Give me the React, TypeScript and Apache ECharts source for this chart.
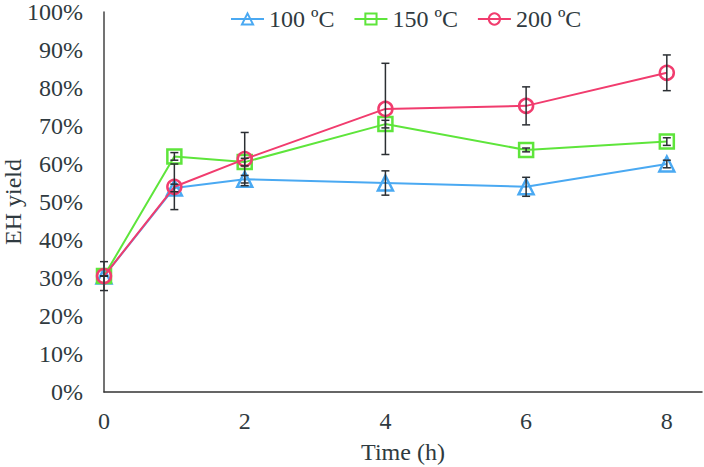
import React, { useEffect, useRef } from "react";
import * as echarts from "echarts";

const times = [0, 1, 2, 4, 6, 8];
const y100 = [30.5, 53.7, 56, 55, 54, 60];
const y150 = [30.5, 62, 60.5, 70.5, 63.7, 65.9];
const y200 = [30.5, 54, 61.3, 74.5, 75.3, 84];
const err100 = [0, 1, 1, 3.2, 2.5, 1];
const err150 = [0, 1, 1, 1, 0.5, 1];
const err200 = [3.8, 6, 7, 12, 5, 4.7];
const seriesNames = ["100 ºC", "150 ºC", "200 ºC"];
const colors = ["#4aa9f2", "#5ee53b", "#f13c6e"];
const symbols = ["triangle", "rect", "circle"];

const TEXT = "#2f3a40";
const FONT = "Liberation Serif";
const FS = 24;

export default function App() {
  const ref = useRef<HTMLDivElement>(null);
  useEffect(() => {
    document.body.style.margin = "0";
    const chart = echarts.init(ref.current!, null, { renderer: "svg" });
    const ys = [y100, y150, y200];
    const errs = [err100, err150, err200];

    const lineSeries = ys.map((vals, k) => ({
      name: seriesNames[k],
      type: "line",
      data: times.map((t, i) => [t, vals[i]]),
      symbol: symbols[k],
      symbolSize: k === 0 ? 15 : 14,
      showAllSymbol: true,
      lineStyle: { color: colors[k], width: 2 },
      itemStyle: { color: "rgba(255,255,255,0)", borderColor: colors[k], borderWidth: 2.5 },
      z: 2 + k,
    }));

    const errSeries = ys.map((vals, k) => ({
      name: "err" + k,
      type: "custom",
      data: times.map((t, i) => [t, vals[i] - errs[k][i], vals[i] + errs[k][i]]),
      encode: { x: 0, y: [1, 2] },
      z: 10,
      silent: true,
      renderItem: (params: any, api: any) => {
        const x = api.value(0);
        const lo = api.coord([x, api.value(1)]);
        const hi = api.coord([x, api.value(2)]);
        const w = 4;
        const style = { stroke: "#2b2f33", lineWidth: 1.5 };
        return {
          type: "group",
          children: [
            { type: "line", shape: { x1: lo[0], y1: lo[1], x2: hi[0], y2: hi[1] }, style },
            { type: "line", shape: { x1: lo[0] - w, y1: lo[1], x2: lo[0] + w, y2: lo[1] }, style },
            { type: "line", shape: { x1: hi[0] - w, y1: hi[1], x2: hi[0] + w, y2: hi[1] }, style },
          ],
        };
      },
    }));

    chart.setOption({
      animation: false,
      backgroundColor: "#fff",
      textStyle: { fontFamily: FONT },
      legend: {
        data: seriesNames,
        top: 2,
        left: 225,
        itemWidth: 33,
        itemHeight: 14,
        itemGap: 19,
        textStyle: { fontFamily: FONT, fontSize: FS, color: TEXT },
      },
      grid: { left: 104, right: 2, top: 12, bottom: 75, containLabel: false, outerBoundsMode: "none" },
      xAxis: {
        type: "value",
        min: 0,
        max: 8.5,
        interval: 2,
        name: "Time (h)",
        nameLocation: "middle",
        nameGap: 48,
        nameMoveOverlap: false,
        nameTextStyle: { fontFamily: FONT, fontSize: FS, color: TEXT },
        axisLine: { lineStyle: { color: "#333", width: 1.5 } },
        axisTick: { show: false },
        splitLine: { show: false },
        axisLabel: { fontFamily: FONT, fontSize: FS, color: TEXT, margin: 17, showMaxLabel: false },
      },
      yAxis: {
        type: "value",
        min: 0,
        max: 100,
        interval: 10,
        name: "EH yield",
        nameLocation: "middle",
        nameGap: 79,
        nameMoveOverlap: false,
        nameTextStyle: { fontFamily: FONT, fontSize: FS, color: TEXT },
        axisLine: { show: true, lineStyle: { color: "#444", width: 1.5 } },
        axisTick: { show: false },
        splitLine: { show: false },
        axisLabel: { fontFamily: FONT, fontSize: FS, color: TEXT, margin: 21, formatter: "{value}%" },
      },
      series: [...lineSeries, ...errSeries],
    });
    return () => chart.dispose();
  }, []);
  return <div ref={ref} style={{ width: 704, height: 467 }} />;
}
